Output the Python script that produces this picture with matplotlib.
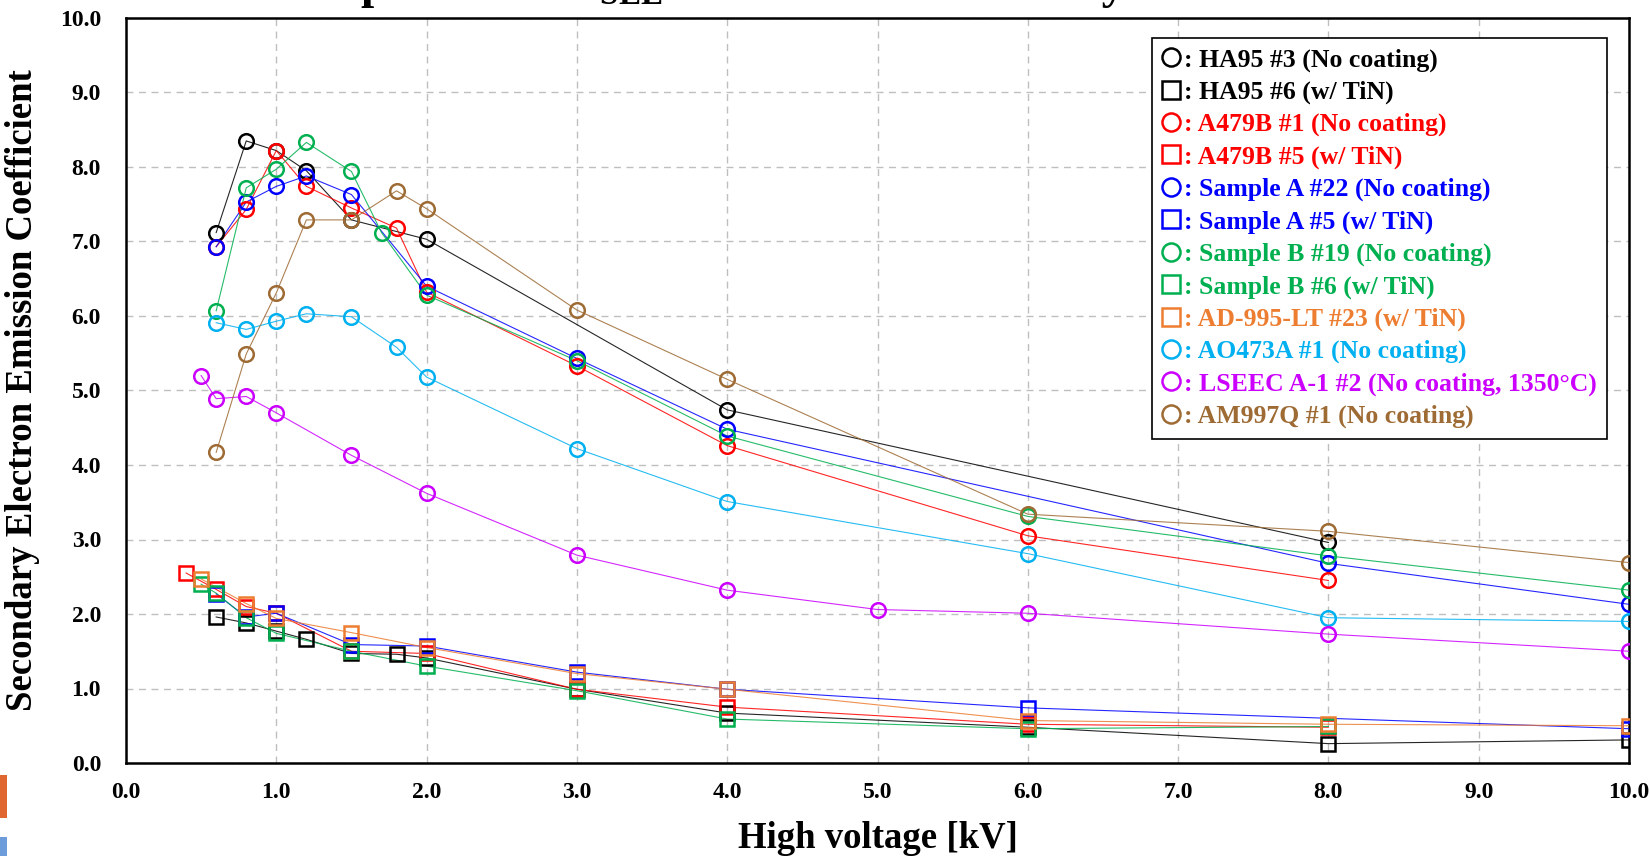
import matplotlib
matplotlib.use('Agg')
import matplotlib.pyplot as plt
from matplotlib.lines import Line2D
from matplotlib.patches import Rectangle

# ---- data ----
ha95_3_x = [0.6, 0.8, 1.0, 1.2, 1.5, 2.0, 4.0, 8.0]
ha95_3_y = [7.12, 8.35, 8.22, 7.95, 7.29, 7.03, 4.74, 2.96]

ha95_6_x = [0.6, 0.8, 1.0, 1.2, 1.5, 1.8, 2.0, 3.0, 4.0, 6.0, 8.0, 10.0]
ha95_6_y = [1.96, 1.88, 1.77, 1.66, 1.47, 1.46, 1.41, 0.99, 0.67, 0.48, 0.26, 0.31]

a479b_1_x = [0.6, 0.8, 1.0, 1.2, 1.5, 1.8, 2.0, 3.0, 4.0, 6.0, 8.0]
a479b_1_y = [6.93, 7.43, 8.22, 7.74, 7.45, 7.18, 6.32, 5.33, 4.26, 3.05, 2.45]

a479b_5_x = [0.4, 0.6, 0.8, 1.0, 1.5, 2.0, 3.0, 4.0, 6.0, 8.0]
a479b_5_y = [2.55, 2.33, 2.10, 2.01, 1.50, 1.47, 0.99, 0.75, 0.52, 0.48]

sa22_x = [0.6, 0.8, 1.0, 1.2, 1.5, 2.0, 3.0, 4.0, 8.0, 10.0]
sa22_y = [6.93, 7.53, 7.74, 7.88, 7.63, 6.40, 5.43, 4.48, 2.68, 2.13]

sa5_x = [0.6, 0.8, 1.0, 1.5, 2.0, 3.0, 4.0, 6.0, 10.0]
sa5_y = [2.27, 1.96, 2.01, 1.59, 1.57, 1.22, 0.99, 0.74, 0.46]

sb19_x = [0.6, 0.8, 1.0, 1.2, 1.5, 1.7, 2.0, 3.0, 4.0, 6.0, 8.0, 10.0]
sb19_y = [6.07, 7.72, 7.97, 8.33, 7.94, 7.12, 6.28, 5.40, 4.39, 3.31, 2.78, 2.32]

sb6_x = [0.5, 0.6, 0.8, 1.0, 1.5, 2.0, 3.0, 4.0, 6.0, 8.0]
sb6_y = [2.40, 2.28, 1.95, 1.74, 1.50, 1.30, 0.97, 0.59, 0.46, 0.49]

ad995_x = [0.5, 0.8, 1.0, 1.5, 2.0, 3.0, 4.0, 6.0, 8.0, 10.0]
ad995_y = [2.47, 2.14, 1.94, 1.75, 1.55, 1.20, 0.99, 0.57, 0.52, 0.50]

ao473_x = [0.6, 0.8, 1.0, 1.2, 1.5, 1.8, 2.0, 3.0, 4.0, 6.0, 8.0, 10.0]
ao473_y = [5.91, 5.82, 5.93, 6.03, 5.99, 5.58, 5.18, 4.22, 3.51, 2.81, 1.95, 1.90]

lseec_x = [0.5, 0.6, 0.8, 1.0, 1.5, 2.0, 3.0, 4.0, 5.0, 6.0, 8.0, 10.0]
lseec_y = [5.20, 4.89, 4.92, 4.70, 4.13, 3.62, 2.79, 2.32, 2.06, 2.01, 1.73, 1.50]

am997_x = [0.6, 0.8, 1.0, 1.2, 1.5, 1.8, 2.0, 3.0, 4.0, 6.0, 8.0, 10.0]
am997_y = [4.17, 5.49, 6.31, 7.29, 7.29, 7.68, 7.44, 6.08, 5.15, 3.34, 3.11, 2.69]

labels = [': HA95 #3 (No coating)', ': HA95 #6 (w/ TiN)',
          ': A479B #1 (No coating)', ': A479B #5 (w/ TiN)',
          ': Sample A #22 (No coating)', ': Sample A #5 (w/ TiN)',
          ': Sample B #19 (No coating)', ': Sample B #6 (w/ TiN)',
          ': AD-995-LT #23 (w/ TiN)', ': AO473A #1 (No coating)',
          ': LSEEC A-1 #2 (No coating, 1350\u00b0C)', ': AM997Q #1 (No coating)']

series = [
    (ha95_3_x, ha95_3_y, 'o', '#000000'),
    (ha95_6_x, ha95_6_y, 's', '#000000'),
    (a479b_1_x, a479b_1_y, 'o', '#FF0000'),
    (a479b_5_x, a479b_5_y, 's', '#FF0000'),
    (sa22_x, sa22_y, 'o', '#0000FF'),
    (sa5_x, sa5_y, 's', '#0000FF'),
    (sb19_x, sb19_y, 'o', '#00B050'),
    (sb6_x, sb6_y, 's', '#00B050'),
    (ad995_x, ad995_y, 's', '#ED7D31'),
    (ao473_x, ao473_y, 'o', '#00B0F0'),
    (lseec_x, lseec_y, 'o', '#CC00FF'),
    (am997_x, am997_y, 'o', '#9E6B34'),
]

plt.rcParams['font.family'] = ['Liberation Serif', 'DejaVu Serif']
plt.rcParams['font.weight'] = 'bold'
plt.rcParams['mathtext.fontset'] = 'custom'
plt.rcParams['mathtext.rm'] = 'Liberation Serif:bold'
plt.rcParams['mathtext.it'] = 'Liberation Serif:bold'
plt.rcParams['mathtext.bf'] = 'Liberation Serif:bold'

fig = plt.figure(figsize=(16.5, 8.56), dpi=100)
ax = fig.add_axes([126 / 1650, 1 - 763 / 856, (1629 - 126) / 1650, (763 - 18) / 856])

handles = []
for (x, y, m, c), lab in zip(series, labels):
    ms = 10.5 if m == 'o' else 10
    ax.plot(x, y, color=c, lw=0.8, alpha=0.85, zorder=3)
    ax.plot(x, y, ls='none', marker=m, ms=ms, mfc='none', mec=c, mew=1.8, zorder=4)
    handles.append(Line2D([], [], ls='none', marker=m, ms=13, mfc='none', mec=c, mew=1.8, label=lab))

ax.set_xlim(0, 10)
ax.set_ylim(0, 10)
ax.set_xticks(range(0, 11))
ax.set_yticks(range(0, 11))
ax.set_xticklabels(['%.1f' % v for v in range(0, 11)])
ax.set_yticklabels(['%.1f' % v for v in range(0, 11)])
ax.tick_params(length=0, labelsize=17)
ax.tick_params(axis='x', pad=14)
ax.tick_params(axis='y', pad=18)
ax.grid(True, color='#BFBFBF', ls=(0, (5, 4)), lw=1.0)
ax.set_axisbelow(True)
for s in ax.spines.values():
    s.set_linewidth(1.8)

ax.set_xlabel('High voltage [kV]', fontsize=26.5, fontweight='bold', labelpad=13)
ax.set_ylabel('Secondary Electron Emission Coefficient', fontsize=26.5, fontweight='bold', labelpad=14)

leg = ax.legend(handles=handles, loc='upper right', bbox_to_anchor=(0.9854, 0.9732),
                borderaxespad=0, fancybox=False, framealpha=1, edgecolor='black',
                handlelength=0.7, handletextpad=0.15, labelspacing=0.35,
                borderpad=0.4, prop={'weight': 'bold', 'size': 18.5})
leg.get_frame().set_linewidth(1.2)
for t, (_, _, _, c) in zip(leg.get_texts(), series):
    t.set_color(c)

# title, cut off by the top edge in the reference
fig.text(663 / 1650, 1 + 2 / 856, r'Comparison of $\delta_{SEE}$',
         fontsize=34, fontweight='bold', ha='right', va='baseline')
fig.text(1125 / 1650, 1 + 2 / 856, 'for each Material by',
         fontsize=34, fontweight='bold', ha='right', va='baseline')

# logo fragments at bottom-left edge
fig.patches.append(Rectangle((0, 1 - 818 / 856), 7 / 1650, 43 / 856, transform=fig.transFigure,
                             color='#E0662F', lw=0))
fig.patches.append(Rectangle((0, 0), 7 / 1650, 19 / 856, transform=fig.transFigure,
                             color='#6D9CDA', lw=0))

fig.savefig('out.png', dpi=100)
